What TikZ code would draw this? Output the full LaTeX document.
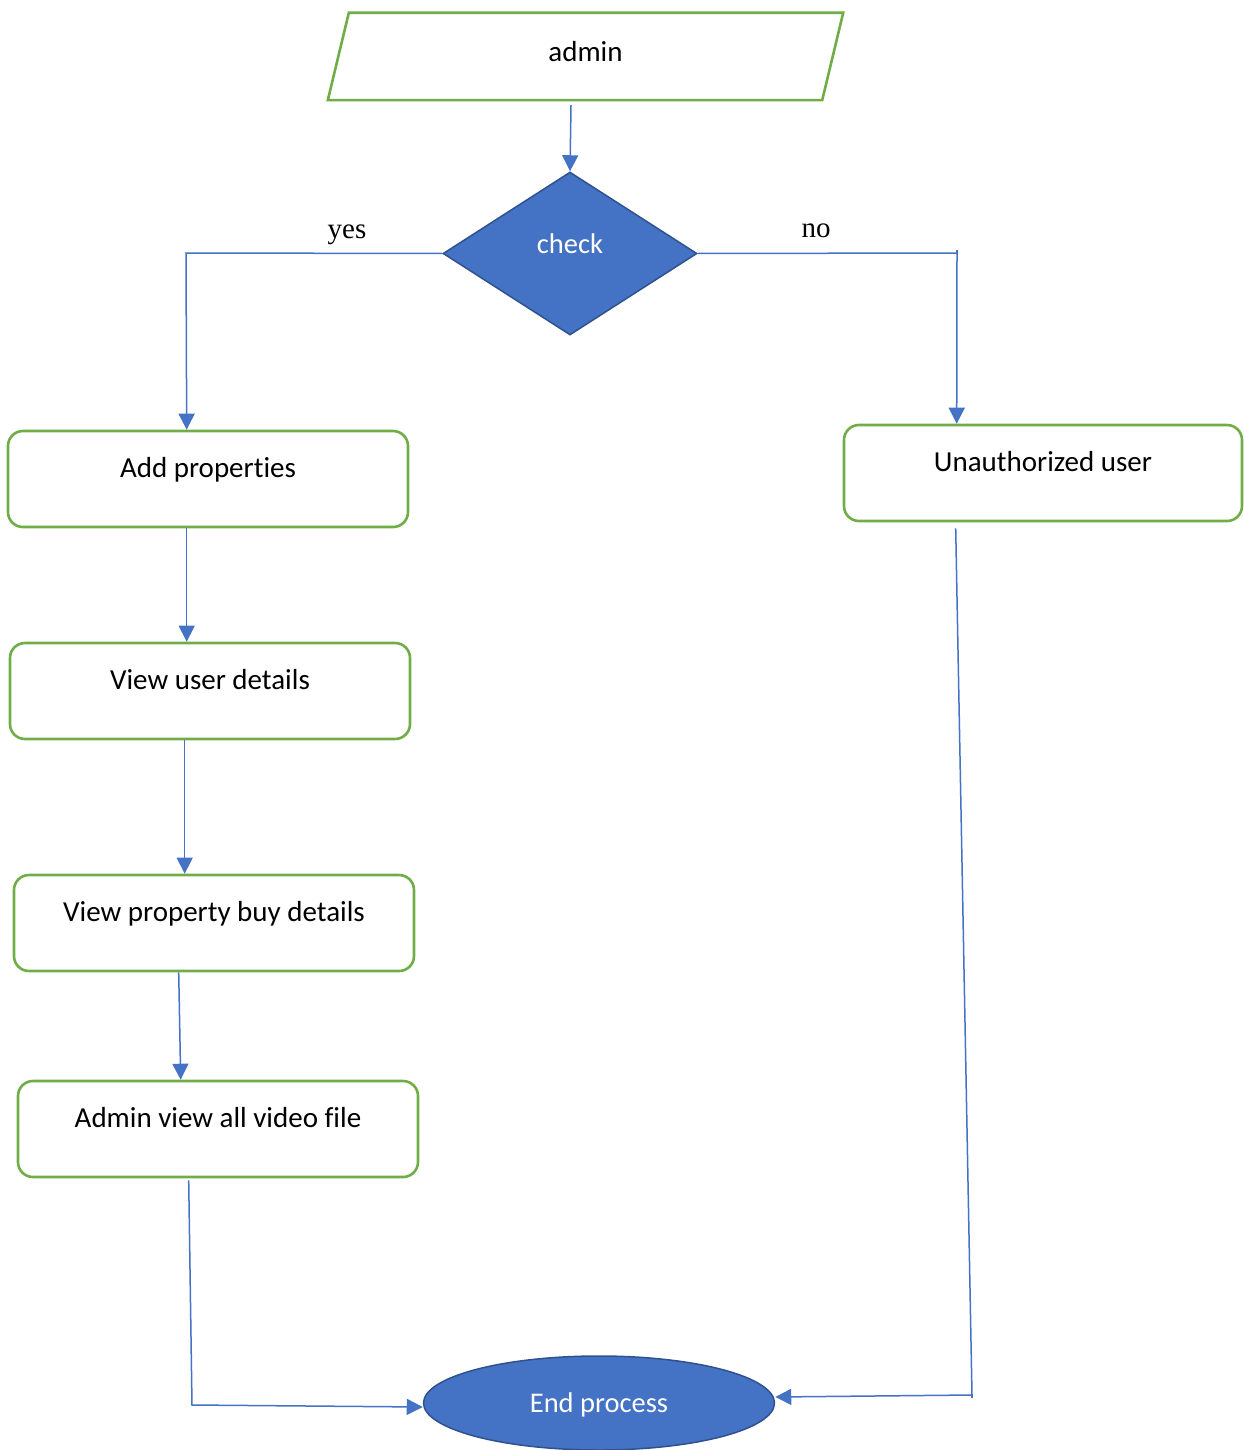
\documentclass[tikz,border=0pt]{standalone}
\usepackage{fontspec}
\setmainfont{Carlito}[Ligatures=NoCommon]
\newfontfamily\labelserif{Liberation Serif}
\usetikzlibrary{shapes.geometric,arrows.meta}
\definecolor{boxgreen}{HTML}{70AD47}
\definecolor{flowblue}{HTML}{4472C4}
\definecolor{edgeblue}{HTML}{2F528F}

\begin{document}
\begin{tikzpicture}[x=1pt,y=-1pt,
  stepbox/.style={draw=boxgreen, line width=2.6pt, rounded corners=15pt,
    minimum width=400pt, minimum height=96pt, inner sep=0pt,
    text height=20pt, text depth=24pt, font=\fontsize{29}{34}\selectfont},
  flow/.style={draw=flowblue, line width=1.5pt, line join=miter,
    -{Triangle[width=16pt,length=16pt]}},
  wire/.style={draw=flowblue, line width=1.5pt},
  branch/.style={font=\labelserif\fontsize{29}{34}\selectfont, anchor=base, inner sep=0pt}
]
\useasboundingbox (0,0) rectangle (1243,1450);

% input: admin (parallelogram)
\node[minimum width=515pt, minimum height=87pt, inner sep=0pt,
  text height=18pt, text depth=7pt, font=\fontsize{29}{34}\selectfont]
  (admin) at (585.5,56.5) {admin};
\draw[boxgreen, line width=2.6pt]
  ([xshift=21pt]admin.north west) -- (admin.north east)
  -- ([xshift=-21pt]admin.south east) -- (admin.south west) -- cycle;

% decision
\node[diamond, aspect=1.56, minimum width=254pt, minimum height=163pt,
  inner sep=0pt, fill=flowblue, draw=edgeblue, line width=1.5pt,
  text=white, text height=20pt, text depth=20pt,
  font=\fontsize{28.5}{34}\selectfont] (check) at (570,253.5) {check};

% process steps
\node[stepbox] (add)    at (208,479)   {Add properties};
\node[stepbox] (view)   at (210,691)   {View user details};
\node[stepbox] (buy)    at (214,923)   {View property buy details};
\node[stepbox] (video)  at (218,1129)  {Admin view all video file};
\node[stepbox, minimum width=398pt] (unauth) at (1043,473) {Unauthorized user};

% terminal
\node[ellipse, minimum width=351pt, minimum height=94pt, inner sep=0pt,
  fill=flowblue, draw=edgeblue, line width=1.5pt, text=white,
  text height=25pt, text depth=7pt, font=\fontsize{28.5}{34}\selectfont]
  (end) at (599,1403) {End process};

% branch labels
\node[branch] (yes) at (347,238) {yes};
\node[branch] (no)  at (816,237) {no};

% corner points of the connectors
\coordinate (yescorner) at (186,253);
\coordinate (nocorner)  at (957,253);
\coordinate (leftfoot)  at (192,1405);
\coordinate (rightfoot) at (972,1395);

% connectors
\draw[flow] ([xshift=-14.5pt,yshift=-5pt]admin.south) -- (check.north);
\draw[flow] (check.west) -- (yescorner) -- ([xshift=180pt]add.north west);
\draw[flow] (check.east) -- (nocorner) -- ([xshift=114pt]unauth.north west);
\draw[flow] ([xshift=180pt]add.south west) -- ([xshift=178pt]view.north west);
\draw[flow] ([xshift=176pt]view.south west) -- ([xshift=172pt]buy.north west);
\draw[flow] ([xshift=166pt]buy.south west) -- ([xshift=164pt]video.north west);
\draw[flow] ([xshift=172pt,yshift=-2pt]video.south west) -- (leftfoot)
  -- ([yshift=-4pt]end.west);
\draw[flow] ([xshift=113pt,yshift=-6pt]unauth.south west) -- (rightfoot)
  -- ([yshift=6pt]end.east);
\draw[wire] (rightfoot) -- ++(0,3);
\draw[wire] (nocorner) -- ++(0,-3);
\end{tikzpicture}
\end{document}
